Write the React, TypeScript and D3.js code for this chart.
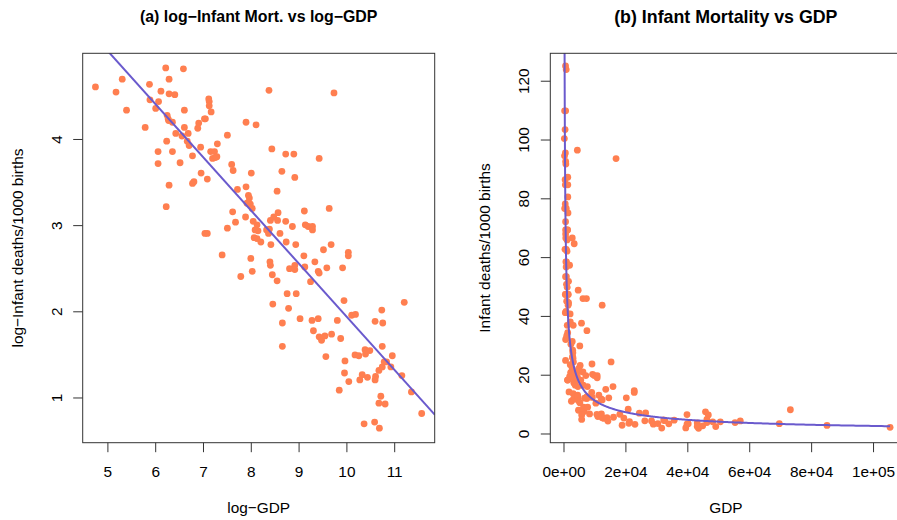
import React from "react";
import * as d3 from "d3";

// log-GDP and log-infant-mortality for each country
const logGDP: number[] = [
  4.74, 5.17, 5.30, 5.39, 5.78, 5.87, 5.88, 6.00, 6.06, 6.11, 6.21, 6.28, 6.28, 6.40, 6.58,
  6.24, 6.26, 6.27, 6.35, 6.60, 6.42, 6.55, 6.60, 6.68, 6.66, 6.70, 6.23, 6.05, 6.35, 6.05,
  6.51, 6.77, 6.28, 6.22, 6.95, 7.08, 6.77, 6.80, 7.11, 7.12, 7.12, 7.16, 7.04, 7.02, 6.90,
  6.88, 6.94, 7.15, 7.23, 7.29, 7.19, 7.25, 7.28, 7.03, 7.08,
  7.50, 7.59, 7.62, 7.71, 7.89, 7.89, 8.10, 8.00, 7.94, 7.96, 7.94, 7.98, 7.91, 8.02, 7.88,
  7.61, 7.67, 7.50, 7.78, 7.39, 7.99, 8.02, 8.04, 8.12, 8.08, 8.14, 8.06, 8.12, 8.20, 8.32,
  8.36, 8.40, 8.38, 8.41, 8.37, 8.43, 8.39, 8.40, 8.44, 8.45, 8.54, 8.54, 8.64, 8.56, 8.55,
  8.47, 8.60, 8.72, 8.89, 8.91, 8.72, 8.73, 8.86, 8.75, 8.78, 8.65, 8.65, 8.80, 8.91, 8.91,
  8.93, 8.94, 9.02, 9.11, 9.13, 9.19, 9.28, 9.28, 9.10, 9.12, 9.24, 9.33, 9.40, 9.42, 9.42,
  9.51, 9.58, 9.63, 9.67, 9.73, 9.27, 9.40, 9.30, 9.42, 9.47, 9.54, 9.68, 9.56, 9.80, 9.87,
  9.84, 9.91, 9.94, 9.96, 9.95, 10.04, 10.03, 10.03, 10.10, 10.18, 10.17, 10.25, 10.27, 10.32, 10.36,
  10.38, 10.39, 10.48, 10.43, 10.58, 10.60, 10.59, 10.59, 10.68, 10.67, 10.71, 10.67, 10.80, 10.73, 10.75,
  10.74, 10.74, 10.78, 10.83, 10.95, 10.92, 11.15, 11.20, 11.35, 11.565,
];
const logIM: number[] = [
  4.61, 4.55, 4.70, 4.34, 4.14, 4.64, 4.46, 4.36, 4.44, 4.56, 4.83, 4.70, 4.53, 4.52, 4.82,
  4.28, 4.24, 4.22, 4.20, 4.34, 4.07, 4.04, 4.14, 4.07, 3.98, 3.93, 3.98, 3.86, 3.86, 3.72,
  3.73, 3.81, 3.47, 3.22, 3.61, 3.54, 3.49, 3.51, 4.47, 4.44, 4.39, 4.32, 4.24, 4.24, 4.19,
  4.13, 3.91, 3.86, 3.86, 3.95, 3.78, 3.79, 3.80, 2.91, 2.91,
  4.05, 3.71, 3.64, 3.42, 3.45, 4.20, 4.17, 3.61, 3.35, 3.32, 3.27, 3.25, 3.26, 3.20, 3.10,
  3.16, 3.04, 2.97, 2.41, 2.66, 2.62, 2.47, 3.05, 3.01, 2.95, 2.94, 2.86, 2.85, 2.81, 2.95,
  2.91, 3.06, 2.96, 2.78, 4.57, 3.89, 2.58, 2.54, 2.43, 2.09, 2.36, 3.40, 3.63, 3.15, 3.06,
  3.10, 2.91, 3.83, 3.83, 3.56, 3.05, 2.81, 2.99, 2.21, 2.04, 1.87, 1.60, 2.50, 2.54, 2.49,
  2.78, 2.21, 1.92, 3.17, 3.01, 2.99, 2.99, 2.95, 2.65, 2.52, 2.35, 2.58, 2.47, 2.45, 3.78,
  2.72, 2.51, 3.20, 2.78, 4.54, 1.90, 1.92, 1.78, 1.71, 1.67, 1.72, 1.74, 1.48, 1.90, 1.69,
  1.09, 2.51, 2.13, 1.43, 1.29, 1.19, 2.65, 2.69, 1.96, 1.97, 1.50, 1.49, 1.21, 1.27, 0.70,
  1.56, 1.51, 1.55, 1.24, 0.72, 1.25, 1.21, 1.89, 0.65, 1.32, 1.02, 0.94, 0.93, 2.02, 1.87,
  1.60, 1.36, 1.42, 1.42, 1.49, 1.36, 1.26, 2.11, 1.07, 0.82,
];

// fitted regression on the log scale
const fitIntercept = 8.11;
const fitSlope = -0.617;

const xTicksA: number[] = [5, 6, 7, 8, 9, 10, 11];
const yTicksA: number[] = [1, 2, 3, 4];
const xTicksB: number[] = [0, 20000, 40000, 60000, 80000, 100000];
const xTickLabelsB: string[] = ["0e+00", "2e+04", "4e+04", "6e+04", "8e+04", "1e+05"];
const yTicksB: number[] = [0, 20, 40, 60, 80, 100, 120];

const titleA = "(a) log\u2212Infant Mort. vs log\u2212GDP";
const titleB = "(b) Infant Mortality vs GDP";
const xLabA = "log\u2212GDP";
const yLabA = "log\u2212Infant deaths/1000 births";
const xLabB = "GDP";
const yLabB = "Infant deaths/1000 births";

const FONT = "'Liberation Sans', Arial, Helvetica, sans-serif";
const FS = 15.4;
const PT = "#FF7F50";
const LINE = "#6A5ACD";
const AX = "#333";

const top = 53.3;
const bottom = 442.7;

export default function App() {
  const gdp = logGDP.map((v) => Math.exp(v));
  const im = logIM.map((v) => Math.exp(v));

  const xA = d3.scaleLinear().domain([4.473, 11.837]).range([82.7, 434.7]);
  const yA = d3.scaleLinear().domain([0.481, 5.0]).range([bottom, top]);
  const xB = d3.scaleLinear().domain([-4424, 109000]).range([550.3, 901.4]);
  const yB = d3.scaleLinear().domain([-2.96, 129.5]).range([bottom, top]);

  const [xa0, xa1] = xA.domain();
  const lineA = d3.line<number>()
    .x((v) => xA(v))
    .y((v) => yA(fitIntercept + fitSlope * v));
  const lineAPath = lineA([xa0, xa1]) || "";

  const gMin = d3.min(gdp)!;
  const gMax = d3.max(gdp)!;
  const curvePts = d3.range(0, 801).map((i) => gMin * Math.pow(gMax / gMin, i / 800));
  const lineB = d3.line<number>()
    .x((v) => xB(v))
    .y((v) => yB(Math.exp(fitIntercept) * Math.pow(v, fitSlope)));
  const lineBPath = lineB(curvePts) || "";

  const tick = 9.5;
  const [xaL, xaR] = xA.range();
  const [xbL, xbR] = xB.range();

  return (
    <svg width={897} height={520} style={{ position: "absolute", left: 0, top: 0, background: "#fff" }}
      fontFamily={FONT}>
      <defs>
        <clipPath id="clipA"><rect x={xaL} y={top} width={xaR - xaL} height={bottom - top} /></clipPath>
        <clipPath id="clipB"><rect x={xbL} y={top} width={xbR - xbL} height={bottom - top} /></clipPath>
      </defs>

      {/* Panel A */}
      <text x={(xaL + xaR) / 2} y={22} textAnchor="middle" fontWeight="bold" fontSize={15.9}>{titleA}</text>
      <g clipPath="url(#clipA)">
        {logGDP.map((v, i) => (
          <circle key={i} cx={xA(v)} cy={yA(logIM[i])} r={3.4} fill={PT} />
        ))}
        <path d={lineAPath} stroke={LINE} strokeWidth={2} fill="none" />
      </g>
      <rect x={xaL} y={top} width={xaR - xaL} height={bottom - top} fill="none" stroke={AX} strokeWidth={1} />
      {xTicksA.map((t) => (
        <g key={t}>
          <line x1={xA(t)} x2={xA(t)} y1={bottom} y2={bottom + tick} stroke={AX} />
          <text x={xA(t)} y={477} textAnchor="middle" fontSize={FS}>{t}</text>
        </g>
      ))}
      {yTicksA.map((t) => (
        <g key={t}>
          <line x1={xaL} x2={xaL - tick} y1={yA(t)} y2={yA(t)} stroke={AX} />
          <text transform={`translate(61.5,${yA(t)}) rotate(-90)`} textAnchor="middle" fontSize={FS}>{t}</text>
        </g>
      ))}
      <text x={(xaL + xaR) / 2} y={513} textAnchor="middle" fontSize={FS}>{xLabA}</text>
      <text transform={`translate(22.5,${(top + bottom) / 2}) rotate(-90)`} textAnchor="middle" fontSize={FS}>{yLabA}</text>

      {/* Panel B */}
      <text x={(xbL + xbR) / 2} y={22.5} textAnchor="middle" fontWeight="bold" fontSize={17.8}>{titleB}</text>
      <g clipPath="url(#clipB)">
        {gdp.map((v, i) => (
          <circle key={i} cx={xB(v)} cy={yB(im[i])} r={3.4} fill={PT} />
        ))}
        <path d={lineBPath} stroke={LINE} strokeWidth={2} fill="none" />
      </g>
      <rect x={xbL} y={top} width={xbR - xbL} height={bottom - top} fill="none" stroke={AX} strokeWidth={1} />
      {xTicksB.map((t, i) => (
        <g key={t}>
          <line x1={xB(t)} x2={xB(t)} y1={bottom} y2={bottom + tick} stroke={AX} />
          <text x={xB(t)} y={477} textAnchor="middle" fontSize={FS}>{xTickLabelsB[i]}</text>
        </g>
      ))}
      {yTicksB.map((t) => (
        <g key={t}>
          <line x1={xbL} x2={xbL - tick} y1={yB(t)} y2={yB(t)} stroke={AX} />
          <text transform={`translate(529,${yB(t)}) rotate(-90)`} textAnchor="middle" fontSize={FS}>{t}</text>
        </g>
      ))}
      <text x={(xbL + xbR) / 2} y={513} textAnchor="middle" fontSize={FS}>{xLabB}</text>
      <text transform={`translate(490.3,${(top + bottom) / 2}) rotate(-90)`} textAnchor="middle" fontSize={FS}>{yLabB}</text>
    </svg>
  );
}
